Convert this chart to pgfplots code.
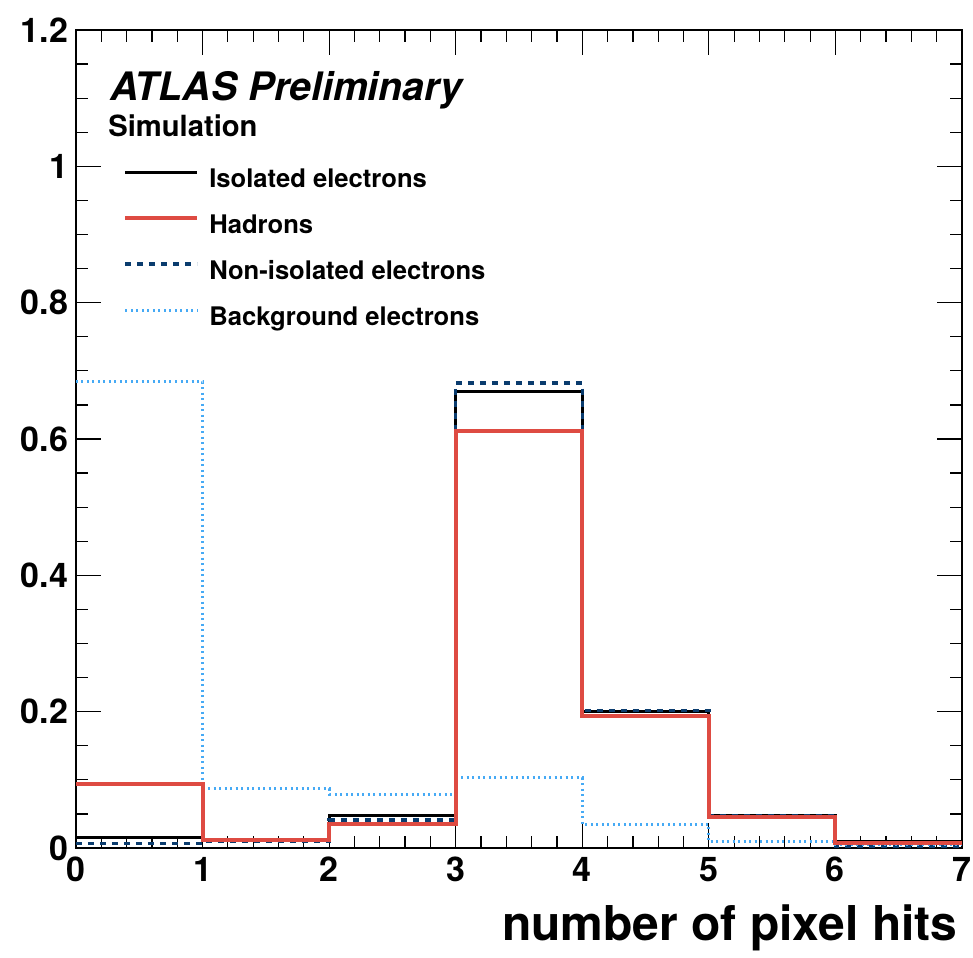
\documentclass[border=0pt]{standalone}
\usepackage{pgfplots}
\pgfplotsset{compat=1.18}
\usepackage{fontspec}
\setmainfont{TeX Gyre Heros}

\definecolor{hadred}{RGB}{222,75,66}
\definecolor{noniso}{RGB}{10,60,110}
\definecolor{bkgblue}{RGB}{70,170,245}

\begin{document}
\begin{tikzpicture}
\path[use as bounding box] (-38pt,-54.5pt) rectangle (448.5pt,424pt);
\begin{axis}[
  scale only axis,
  width=443pt, height=409pt,
  xmin=0, xmax=7, ymin=0, ymax=1.2,
  xtick={0,1,...,7},
  ytick={0,0.2,0.4,0.6,0.8,1,1.2},
  minor x tick num=4,
  minor y tick num=3,
  tick align=inside,
  major tick length=12.5pt,
  minor tick length=6pt,
  tick style={black, line width=0.6pt},
  axis line style={line width=0.8pt},
  /pgf/number format/assume math mode=true,
  ticklabel style={font=\fontsize{17}{20}\selectfont\bfseries},
  xticklabel style={yshift=-1pt},
  yticklabel style={xshift=-0.5pt},
  xlabel={number of pixel hits},
  xlabel style={at={(rel axis cs:1,0)}, anchor=base east, inner sep=0pt,
    xshift=-2pt, yshift=-46pt, font=\fontsize{24}{28}\selectfont\bfseries},
  legend cell align=left,
  legend image code/.code={\draw[#1] (0pt,4pt) -- (36pt,4pt);},
  legend style={draw=none, fill=none, at={(rel axis cs:0.053,0.833)},
    anchor=north west, inner sep=0pt, row sep=10pt,
    nodes={inner sep=0pt, text height=10pt, text depth=3pt},
    font=\fontsize{12.8}{15}\selectfont\bfseries,
    /tikz/every odd column/.style={column sep=5pt}},
  const plot,
]
\addlegendimage{black, line width=1.5pt}
\addlegendentry{Isolated electrons}
\addlegendimage{hadred, line width=2pt}
\addlegendentry{Hadrons}
\addlegendimage{noniso, line width=1.7pt, dash pattern=on 3pt off 3pt}
\addlegendentry{Non-isolated electrons}
\addlegendimage{bkgblue, line width=1.5pt, dash pattern=on 1pt off 1.75pt}
\addlegendentry{Background electrons}

% isolated electrons
\addplot[black, line width=1.5pt, forget plot] coordinates {
  (0,0.015) (1,0.012) (2,0.048) (3,0.669) (4,0.200) (5,0.047) (6,0.010) (7,0.010)};
% non-isolated electrons
\addplot[noniso, line width=1.7pt, dash pattern=on 3pt off 3pt, forget plot] coordinates {
  (0,0.007) (1,0.010) (2,0.041) (3,0.682) (4,0.202) (5,0.048) (6,0.003) (7,0.003)};
% background electrons
\addplot[bkgblue, line width=1.5pt, dash pattern=on 1pt off 1.75pt, forget plot] coordinates {
  (0,0.684) (1,0.087) (2,0.079) (3,0.103) (4,0.035) (5,0.009) (6,0.005) (7,0.005)};
% hadrons
\addplot[hadred, line width=2pt, forget plot] coordinates {
  (0,0.094) (1,0.012) (2,0.035) (3,0.612) (4,0.194) (5,0.046) (6,0.008) (7,0.008)};

\node[anchor=base west, inner sep=0pt, font=\fontsize{19.6}{23}\selectfont\bfseries\itshape]
  at (rel axis cs:0.038,0.914) {ATLAS Preliminary};
\node[anchor=base west, inner sep=0pt, font=\fontsize{14.6}{17}\selectfont\bfseries]
  at (rel axis cs:0.036,0.870) {Simulation};
\end{axis}
\end{tikzpicture}
\end{document}
